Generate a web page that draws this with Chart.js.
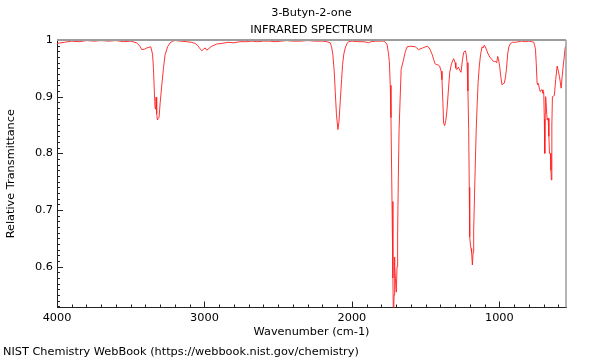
<!DOCTYPE html>
<html>
<head>
<meta charset="utf-8">
<script src="https://cdn.jsdelivr.net/npm/chart.js@4/dist/chart.umd.min.js"></script>
<style>
  html, body { margin: 0; padding: 0; background: #fff; }
  #chart { display: block; }
</style>
</head>
<body>
<canvas id="chart" width="600" height="360"></canvas>
<script>
// spectrum (wavenumber cm-1, relative transmittance)
const wavenumbers = [
  4000, 3950, 3900, 3850, 3800, 3750, 3700, 3650, 3600, 3550, 3500, 3460, 3440, 3425, 3405, 3391, 3364,
  3352, 3346, 3340, 3335, 3330, 3328, 3324, 3319, 3313, 3308, 3300, 3289, 3278, 3267, 3250, 3233, 3215,
  3199, 3160, 3120, 3090, 3063, 3045, 3034, 3018, 3005, 2995, 2985, 2975, 2950, 2916, 2880, 2840, 2800,
  2760, 2720, 2680, 2640, 2600, 2560, 2520, 2480, 2440, 2400, 2350, 2300, 2250, 2200, 2170, 2147, 2138,
  2129, 2120, 2113, 2105, 2095, 2088, 2079, 2070, 2063, 2055, 2045, 2035, 2023, 2000, 1960, 1920, 1900,
  1887, 1870, 1840, 1810, 1785, 1772, 1762, 1754, 1746, 1740, 1735, 1728, 1722, 1718, 1714, 1712, 1708,
  1703, 1699, 1694, 1690, 1685, 1680, 1666, 1650, 1637, 1626, 1600, 1570, 1548, 1520, 1490, 1475, 1468,
  1455, 1446, 1436, 1428, 1415, 1405, 1395, 1389, 1383, 1378, 1371, 1363, 1355, 1346, 1337, 1325, 1310,
  1300, 1295, 1287, 1278, 1269, 1260, 1250, 1242, 1231, 1225, 1219, 1213, 1208, 1204, 1201, 1196, 1192,
  1188, 1183, 1178, 1174, 1168, 1163, 1157, 1151, 1144, 1136, 1127, 1117, 1110, 1102, 1095, 1086, 1079,
  1065, 1049, 1040, 1032, 1024, 1018, 1011, 1005, 998, 990, 982, 974, 966, 958, 952, 943, 935, 925, 910,
  891, 870, 850, 823, 800, 780, 767, 760, 755, 750, 744, 738, 733, 728, 722, 716, 710, 704, 699, 695,
  692, 689, 686, 681, 676, 672, 669, 664, 660, 654, 650, 647, 644, 640, 633, 627, 618, 608, 600, 593,
  586, 581, 574, 567, 560, 554, 548
];
const transmittance = [
  0.994, 0.996, 0.998, 0.997, 0.999, 0.998, 0.999, 0.998, 0.999, 0.997, 0.998, 0.995, 0.990, 0.983, 0.984, 0.986, 0.988,
  0.975, 0.951, 0.910, 0.880, 0.878, 0.899, 0.870, 0.859, 0.862, 0.863, 0.890, 0.921, 0.950, 0.974, 0.988, 0.995, 0.998,
  0.999, 0.998, 0.997, 0.996, 0.994, 0.990, 0.986, 0.981, 0.984, 0.986, 0.982, 0.984, 0.989, 0.993, 0.994, 0.996, 0.995,
  0.997, 0.997, 0.998, 0.997, 0.998, 0.998, 0.997, 0.998, 0.999, 0.998, 0.998, 0.999, 0.998, 0.998, 0.997, 0.995, 0.988,
  0.974, 0.945, 0.909, 0.870, 0.842, 0.855, 0.892, 0.930, 0.957, 0.975, 0.986, 0.993, 0.997, 0.998, 0.997, 0.997, 0.996,
  0.995, 0.997, 0.998, 0.998, 0.998, 0.996, 0.992, 0.980, 0.962, 0.920, 0.863, 0.715, 0.580, 0.500, 0.550, 0.617, 0.600,
  0.570, 0.555, 0.600, 0.656, 0.760, 0.842, 0.948, 0.965, 0.980, 0.988, 0.989, 0.988, 0.983, 0.986, 0.989, 0.986, 0.982,
  0.974, 0.966, 0.958, 0.957, 0.956, 0.954, 0.945, 0.930, 0.890, 0.853, 0.849, 0.858, 0.877, 0.910, 0.942, 0.958, 0.967,
  0.960, 0.950, 0.948, 0.952, 0.947, 0.943, 0.965, 0.978, 0.981, 0.975, 0.960, 0.910, 0.842, 0.740, 0.653, 0.638, 0.632,
  0.625, 0.603, 0.625, 0.665, 0.730, 0.783, 0.840, 0.883, 0.925, 0.954, 0.975, 0.988, 0.986, 0.991, 0.988, 0.982, 0.977,
  0.970, 0.965, 0.962, 0.962, 0.962, 0.960, 0.971, 0.965, 0.954, 0.935, 0.921, 0.923, 0.924, 0.935, 0.948, 0.977, 0.988, 0.994, 0.996,
  0.996, 0.997, 0.998, 0.997, 0.998, 0.997, 0.996, 0.990, 0.983, 0.960, 0.924, 0.921, 0.921, 0.913, 0.909, 0.912, 0.912, 0.906, 0.907, 0.860,
  0.800, 0.870, 0.900, 0.880, 0.859, 0.862, 0.862, 0.830, 0.800, 0.800, 0.770, 0.753, 0.850, 0.900, 0.901, 0.902, 0.930, 0.954, 0.945, 0.936,
  0.925, 0.915, 0.935, 0.954, 0.970, 0.986, 0.990
];
const xTickValues = [4000, 3000, 2000, 1000];
const yTickValues = [0.6, 0.7, 0.8, 0.9, 1];
const titleLines = ["3-Butyn-2-one", "INFRARED SPECTRUM"];
const footerText = "NIST Chemistry WebBook (https://webbook.nist.gov/chemistry)";

Chart.defaults.font.family = "'DejaVu Sans', sans-serif";
Chart.defaults.font.size = 11.3;
Chart.defaults.color = "#000";

// inward minor/major ticks and the grey top/right frame
const frameTicks = {
  id: "frameTicks",
  afterDatasetsDraw(chart) {
    const {ctx, chartArea: a, scales: {x, y}} = chart;
    ctx.save();
    ctx.strokeStyle = "#222";
    ctx.lineWidth = 1;
    ctx.beginPath();
    for (let v = 4000; v >= 600; v -= 100) {
      const px = Math.round(x.getPixelForValue(v)) + 0.5;
      const len = v % 1000 === 0 ? 6 : 3;
      ctx.moveTo(px, a.bottom);
      ctx.lineTo(px, a.bottom - len);
    }
    for (let i = 53; i <= 100; i++) {
      const py = Math.round(y.getPixelForValue(i / 100)) + 0.5;
      const len = i % 10 === 0 ? 6 : 3;
      ctx.moveTo(a.left, py);
      ctx.lineTo(a.left + len, py);
    }
    ctx.stroke();
    ctx.strokeStyle = "#9c9c9c";
    ctx.lineWidth = 2;
    ctx.beginPath();
    ctx.moveTo(a.left, a.top);
    ctx.lineTo(a.right, a.top);
    ctx.stroke();
    ctx.lineWidth = 1.5;
    ctx.beginPath();
    ctx.moveTo(a.right, a.top);
    ctx.lineTo(a.right, a.bottom);
    ctx.stroke();
    ctx.restore();
  }
};

new Chart(document.getElementById("chart"), {
  type: "line",
  data: {
    datasets: [{
      data: wavenumbers.map((w, i) => ({x: w, y: transmittance[i]})),
      borderColor: "rgba(255,30,30,0.9)",
      borderWidth: 1,
      pointRadius: 0,
      tension: 0,
      fill: false
    }]
  },
  options: {
    responsive: false,
    animation: false,
    layout: {padding: {left: 3, right: 34, top: 0, bottom: 0}},
    plugins: {
      legend: {display: false},
      tooltip: {enabled: false},
      title: {
        display: true,
        fullSize: false,
        text: titleLines,
        color: "#000",
        font: {size: 11.3, weight: "normal", lineHeight: "17px"},
        padding: {top: 5, bottom: 1}
      },
      subtitle: {
        display: true,
        text: footerText,
        position: "bottom",
        align: "start",
        color: "#000",
        font: {size: 11.3, weight: "normal", lineHeight: "14px"},
        padding: {top: 5, bottom: 1}
      }
    },
    scales: {
      x: {
        type: "linear",
        reverse: true,
        min: 548,
        max: 4000,
        grid: {display: false, drawTicks: false},
        border: {display: true, color: "#222", width: 1},
        afterBuildTicks: s => { s.ticks = xTickValues.map(v => ({value: v})); },
        afterFit: s => { s.height = 32.5; },
        ticks: {padding: 4, maxRotation: 0, autoSkip: false, callback: v => String(v)},
        title: {display: true, text: "Wavenumber (cm-1)", font: {size: 11.3}, padding: {top: 0, bottom: 1}}
      },
      y: {
        type: "linear",
        min: 0.528,
        max: 1,
        grid: {display: false, drawTicks: false},
        border: {display: true, color: "#222", width: 1},
        afterBuildTicks: s => { s.ticks = yTickValues.map(v => ({value: v})); },
        afterFit: s => { s.width = 54; },
        ticks: {padding: 4, autoSkip: false, callback: v => String(Math.round(v * 10) / 10)},
        title: {display: true, text: "Relative Transmittance", font: {size: 11.3}, padding: {top: 1, bottom: 0}}
      }
    }
  },
  plugins: [frameTicks]
});
</script>
</body>
</html>
